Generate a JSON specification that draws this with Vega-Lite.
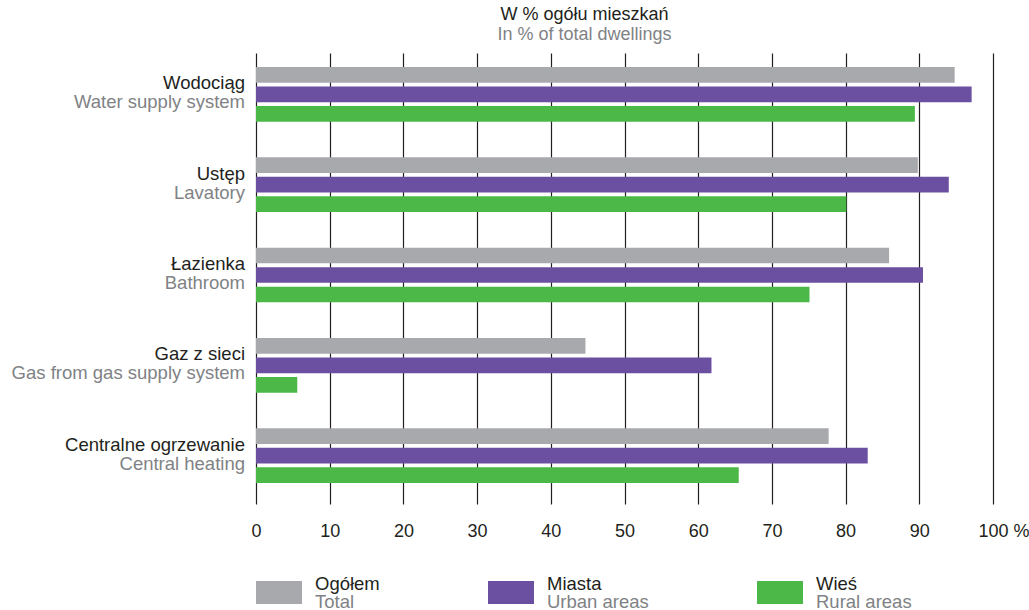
{
  "$schema": "https://vega.github.io/schema/vega-lite/v6.json",
  "padding": {"left": 11, "top": 6, "right": 0, "bottom": 0},
  "background": "white",
  "config": {
    "view": {"stroke": null},
    "font": "Liberation Sans",
    "text": {"font": "Liberation Sans"}
  },
  "datasets": {
    "bars": [
      {"cat": "Wodociąg", "series": "Ogółem", "value": 94.8},
      {"cat": "Wodociąg", "series": "Miasta", "value": 97.1},
      {"cat": "Wodociąg", "series": "Wieś", "value": 89.4},
      {"cat": "Ustęp", "series": "Ogółem", "value": 89.8},
      {"cat": "Ustęp", "series": "Miasta", "value": 94.0},
      {"cat": "Ustęp", "series": "Wieś", "value": 80.1},
      {"cat": "Łazienka", "series": "Ogółem", "value": 85.9},
      {"cat": "Łazienka", "series": "Miasta", "value": 90.5},
      {"cat": "Łazienka", "series": "Wieś", "value": 75.1},
      {"cat": "Gaz z sieci", "series": "Ogółem", "value": 44.7},
      {"cat": "Gaz z sieci", "series": "Miasta", "value": 61.8},
      {"cat": "Gaz z sieci", "series": "Wieś", "value": 5.6},
      {"cat": "Centralne ogrzewanie", "series": "Ogółem", "value": 77.7},
      {"cat": "Centralne ogrzewanie", "series": "Miasta", "value": 83.0},
      {"cat": "Centralne ogrzewanie", "series": "Wieś", "value": 65.5}
    ],
    "cats": [
      {"cat": "Wodociąg", "en": "Water supply system"},
      {"cat": "Ustęp", "en": "Lavatory"},
      {"cat": "Łazienka", "en": "Bathroom"},
      {"cat": "Gaz z sieci", "en": "Gas from gas supply system"},
      {"cat": "Centralne ogrzewanie", "en": "Central heating"}
    ],
    "legend": [
      {"series": "Ogółem", "en": "Total"},
      {"series": "Miasta", "en": "Urban areas"},
      {"series": "Wieś", "en": "Rural areas"}
    ]
  },
  "vconcat": [
    {
      "width": 737,
      "height": 451,
      "title": {
        "text": "W % ogółu mieszkań",
        "subtitle": "In % of total dwellings",
        "anchor": "middle",
        "frame": "group",
        "dx": -40,
        "font": "Liberation Sans",
        "fontSize": 18,
        "fontWeight": "normal",
        "color": "#231f20",
        "subtitleFont": "Liberation Sans",
        "subtitleFontSize": 18,
        "subtitleColor": "#808285",
        "subtitlePadding": 2,
        "offset": 9
      },
      "layer": [
        {
          "data": {"name": "bars"},
          "mark": {"type": "bar"},
          "encoding": {
            "x": {
              "field": "value",
              "type": "quantitative",
              "scale": {"domain": [0, 100], "nice": false},
              "axis": {
                "title": null,
                "values": [0, 10, 20, 30, 40, 50, 60, 70, 80, 90, 100],
                "grid": true,
                "gridColor": "#231f20",
                "gridWidth": 1.2,
                "domain": false,
                "ticks": false,
                "labelFont": "Liberation Sans",
                "labelFontSize": 18,
                "labelColor": "#231f20",
                "labelPadding": 18,
                "labelExpr": "datum.value == 100 ? '100 %' : datum.label",
                "labelAlign": {"condition": {"test": "datum.value == 100", "value": "left"}, "value": "center"},
                "labelOffset": {"condition": {"test": "datum.value == 100", "value": -15}, "value": 0}
              }
            },
            "y": {
              "field": "cat",
              "type": "nominal",
              "sort": ["Wodociąg", "Ustęp", "Łazienka", "Gaz z sieci", "Centralne ogrzewanie"],
              "scale": {"paddingInner": 0.394, "paddingOuter": 0.194, "align": 0.4},
              "axis": null
            },
            "yOffset": {
              "field": "series",
              "type": "nominal",
              "sort": ["Ogółem", "Miasta", "Wieś"],
              "scale": {"paddingInner": 0.195, "paddingOuter": 0}
            },
            "color": {
              "field": "series",
              "type": "nominal",
              "scale": {"domain": ["Ogółem", "Miasta", "Wieś"], "range": ["#a7a9ac", "#6b50a1", "#4cb848"]},
              "legend": null
            }
          }
        },
        {
          "data": {"name": "cats"},
          "mark": {"type": "text", "align": "right", "baseline": "alphabetic", "dx": -11, "dy": -5, "fontSize": 18.5, "color": "#231f20"},
          "encoding": {
            "x": {"datum": 0, "type": "quantitative"},
            "y": {"field": "cat", "type": "nominal", "sort": ["Wodociąg", "Ustęp", "Łazienka", "Gaz z sieci", "Centralne ogrzewanie"]},
            "text": {"field": "cat"}
          }
        },
        {
          "data": {"name": "cats"},
          "mark": {"type": "text", "align": "right", "baseline": "alphabetic", "dx": -11, "dy": 14, "fontSize": 18.5, "color": "#808285"},
          "encoding": {
            "x": {"datum": 0, "type": "quantitative"},
            "y": {"field": "cat", "type": "nominal", "sort": ["Wodociąg", "Ustęp", "Łazienka", "Gaz z sieci", "Centralne ogrzewanie"]},
            "text": {"field": "en"}
          }
        }
      ]
    },
    {
      "data": {"name": "legend"},
      "facet": {"column": {"field": "series", "type": "nominal", "sort": ["Ogółem", "Miasta", "Wieś"], "header": null}},
      "align": "none",
      "spacing": 108,
      "resolve": {"scale": {"x": "independent", "y": "independent"}},
      "spec": {
        "width": 46,
        "height": 23,
        "layer": [
          {
            "mark": {"type": "rect"},
            "encoding": {
              "x": {"field": "series", "type": "nominal", "scale": {"paddingInner": 0, "paddingOuter": 0}, "axis": null},
              "y": {"field": "series", "type": "nominal", "scale": {"paddingInner": 0, "paddingOuter": 0}, "axis": null},
              "color": {
                "field": "series",
                "type": "nominal",
                "scale": {"domain": ["Ogółem", "Miasta", "Wieś"], "range": ["#a7a9ac", "#6b50a1", "#4cb848"]},
                "legend": null
              }
            }
          },
          {
            "mark": {"type": "text", "align": "left", "baseline": "alphabetic", "dx": 13, "dy": -2.5, "fontSize": 18.5, "color": "#231f20"},
            "encoding": {
              "x": {"field": "series", "type": "nominal", "bandPosition": 1},
              "y": {"field": "series", "type": "nominal"},
              "text": {"field": "series"}
            }
          },
          {
            "mark": {"type": "text", "align": "left", "baseline": "alphabetic", "dx": 13, "dy": 15.5, "fontSize": 18.5, "color": "#808285"},
            "encoding": {
              "x": {"field": "series", "type": "nominal", "bandPosition": 1},
              "y": {"field": "series", "type": "nominal"},
              "text": {"field": "en"}
            }
          }
        ]
      }
    }
  ],
  "spacing": 35
}
